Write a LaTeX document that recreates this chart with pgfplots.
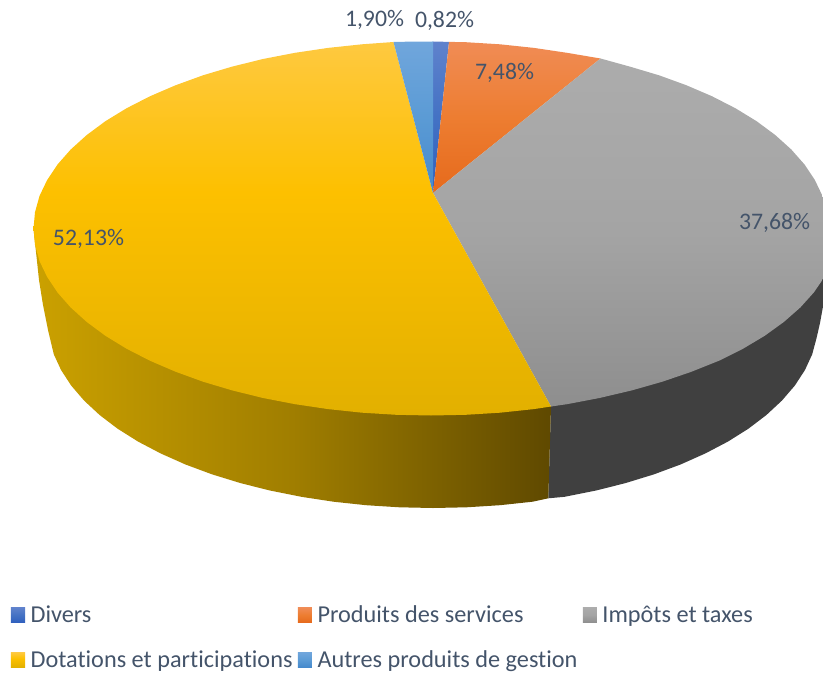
\documentclass[border=0pt]{standalone}
\usepackage{pgfplots}
\pgfplotsset{compat=1.18}
\usepackage{fontspec}
\setmainfont[Ligatures=NoCommon,RawFeature={-liga;-clig;-dlig}]{Carlito}
\definecolor{txt}{HTML}{44546A}
\definecolor{ya}{HTML}{E2B000}\definecolor{yb}{HTML}{FDC000}\definecolor{yc}{HTML}{FEC940}
\definecolor{ga}{HTML}{8E8E8E}\definecolor{gb}{HTML}{A4A4A4}\definecolor{gc}{HTML}{ACACAC}
\definecolor{oa}{HTML}{E66A1C}\definecolor{ob}{HTML}{ED7D31}\definecolor{oc}{HTML}{F08C55}
\definecolor{da}{HTML}{2F5FBE}\definecolor{db}{HTML}{4472C4}\definecolor{dc}{HTML}{5F82CC}
\definecolor{la}{HTML}{4589CC}\definecolor{lb}{HTML}{5B9BD5}\definecolor{lc}{HTML}{70A6DC}
\definecolor{sa}{HTML}{CBA100}\definecolor{sb}{HTML}{A07E00}\definecolor{sc}{HTML}{5F4900}
\pgfdeclareverticalshading{ytop}{100bp}{color(0bp)=(ya);color(25bp)=(ya);color(55bp)=(yb);color(75bp)=(yc);color(100bp)=(yc)}
\pgfdeclareverticalshading{gtop}{100bp}{color(0bp)=(ga);color(25bp)=(ga);color(50bp)=(gb);color(75bp)=(gc);color(100bp)=(gc)}
\pgfdeclareverticalshading{otop}{100bp}{color(0bp)=(oa);color(25bp)=(oa);color(50bp)=(ob);color(75bp)=(oc);color(100bp)=(oc)}
\pgfdeclareverticalshading{dtop}{100bp}{color(0bp)=(da);color(25bp)=(da);color(50bp)=(db);color(75bp)=(dc);color(100bp)=(dc)}
\pgfdeclareverticalshading{ltop}{100bp}{color(0bp)=(la);color(25bp)=(la);color(50bp)=(lb);color(75bp)=(lc);color(100bp)=(lc)}
\pgfdeclarehorizontalshading{yside}{100bp}{color(0bp)=(sa);color(25bp)=(sa);color(50bp)=(sb);color(75bp)=(sc);color(100bp)=(sc)}
\begin{document}
\begin{tikzpicture}
\useasboundingbox (0,0) rectangle (617.25pt,507.75pt);
\begin{axis}[
  scale only axis, width=617.25pt, height=507.75pt,
  xmin=0, xmax=823, ymin=0, ymax=677, y dir=reverse,
  hide axis, clip=true, no markers,
  legend columns=3, legend cell align=left,
  legend image code/.code={\path (11.7pt,0pt); \path[#1] (0pt,-5.6pt) rectangle (10.5pt,5.6pt);},
  legend style={at={(axis cs:11,603)},anchor=north west,draw=none,fill=none,inner sep=0pt,outer sep=0pt,
    font=\fontsize{18.2}{20}\selectfont, text=txt, row sep=15.5pt,
    /tikz/every even column/.append style={column sep=1pt},
    nodes={inner xsep=3pt,inner ysep=2pt}},
]
% side faces
\addplot[forget plot,draw=none,fill=black!75] coordinates {(551,406.5)(831,240)(826,290)(820,323)(816.5,338.2)(812.2,354.3)(804.9,370.1)(794.8,385.6)(781.9,400.6)(766.4,415)(748.4,428.7)(727.9,441.6)(705.2,453.5)(680.5,464.5)(653.8,474.4)(625.5,483.1)(595.7,490.6)(564.7,496.8)(548.3,498.3)(551,406.5)};
\addplot[forget plot,draw=none,shade,shading=yside] coordinates {(551,406.5)(548.3,498.3)(532.6,501.7)(499.9,505.2)(466.6,507.3)(433,508)(399.4,507.3)(366.1,505.2)(333.4,501.7)(301.3,496.8)(270.3,490.6)(240.5,483.1)(212.2,474.4)(185.5,464.5)(160.8,453.5)(138.1,441.6)(117.6,428.7)(99.6,415)(84.1,400.6)(71.2,385.6)(61.1,370.1)(53.8,354.3)(48,330)(43,305)(39,280)(36,252)(33.5,228.5)(551,406.5)};
% top faces, in the order of the legend
\addplot[draw=none,shade,shading=dtop] coordinates {(433,193)(433,41.5)(449,41.9)(433,193)};
\addlegendentry{Divers}
\addplot[draw=none,shade,shading=otop] coordinates {(433,193)(449,41.9)(465.7,42.2)(500,44.3)(533.9,47.9)(566.9,52.8)(600.5,58.5)(433,193)};
\addlegendentry{Produits des services}
\addplot[draw=none,shade,shading=gtop] coordinates {(433,193)(600.5,58.5)(629.8,66.6)(659,75.3)(686.5,85.3)(712.1,96.3)(735.5,108.3)(756.6,121.2)(775.2,135)(791.3,149.5)(804.5,164.5)(814.9,180.1)(822.5,196)(827,212.2)(828.5,228.5)(830,244.8)(830,261)(824.5,276.9)(813.8,292.5)(800.3,307.5)(783.8,322)(764.7,335.8)(743.1,348.7)(719.1,360.7)(691.6,371.7)(662.4,381.7)(631.8,390.4)(599.5,398)(567,404.2)(551,406.5)(433,193)};
\addlegendentry{Impôts et taxes}
\addplot[draw=none,shade,shading=ytop] coordinates {(433,193)(551,406.5)(533.9,409.1)(500,412.7)(465.7,414.8)(431,415.5)(396.3,414.8)(362,412.7)(328.1,409.1)(295.1,404.2)(263,398)(232.2,390.4)(203,381.7)(175.5,371.7)(149.9,360.7)(126.5,348.7)(105.4,335.8)(86.8,322)(70.7,307.5)(57.5,292.5)(47.1,276.9)(39.5,261)(35,244.8)(33.5,228.5)(35,212.2)(39.5,196)(47.1,180.1)(57.5,164.5)(70.7,149.5)(86.8,135)(105.4,121.2)(126.5,108.3)(149.9,96.3)(175.5,85.3)(203,75.3)(232.2,66.6)(263,59)(295.1,52.8)(328.1,47.9)(362,44.3)(393.5,42)(433,193)};
\addlegendentry{Dotations et participations}
\addplot[draw=none,shade,shading=ltop] coordinates {(433,193)(393.5,42)(412,41.6)(433,41.5)(433,193)};
\addlegendentry{Autres produits de gestion}
% data labels
\begin{scope}[every node/.style={font=\fontsize{17.8}{20}\selectfont,text=txt,anchor=base,inner sep=0pt}]
\node at (axis cs:374.5,27) {1,90\%};
\node at (axis cs:444.5,27.5) {0,82\%};
\node at (axis cs:504.5,80) {7,48\%};
\node at (axis cs:774.5,229) {37,68\%};
\node at (axis cs:88.5,245.7) {52,13\%};
\end{scope}
\end{axis}
\end{tikzpicture}
\end{document}
